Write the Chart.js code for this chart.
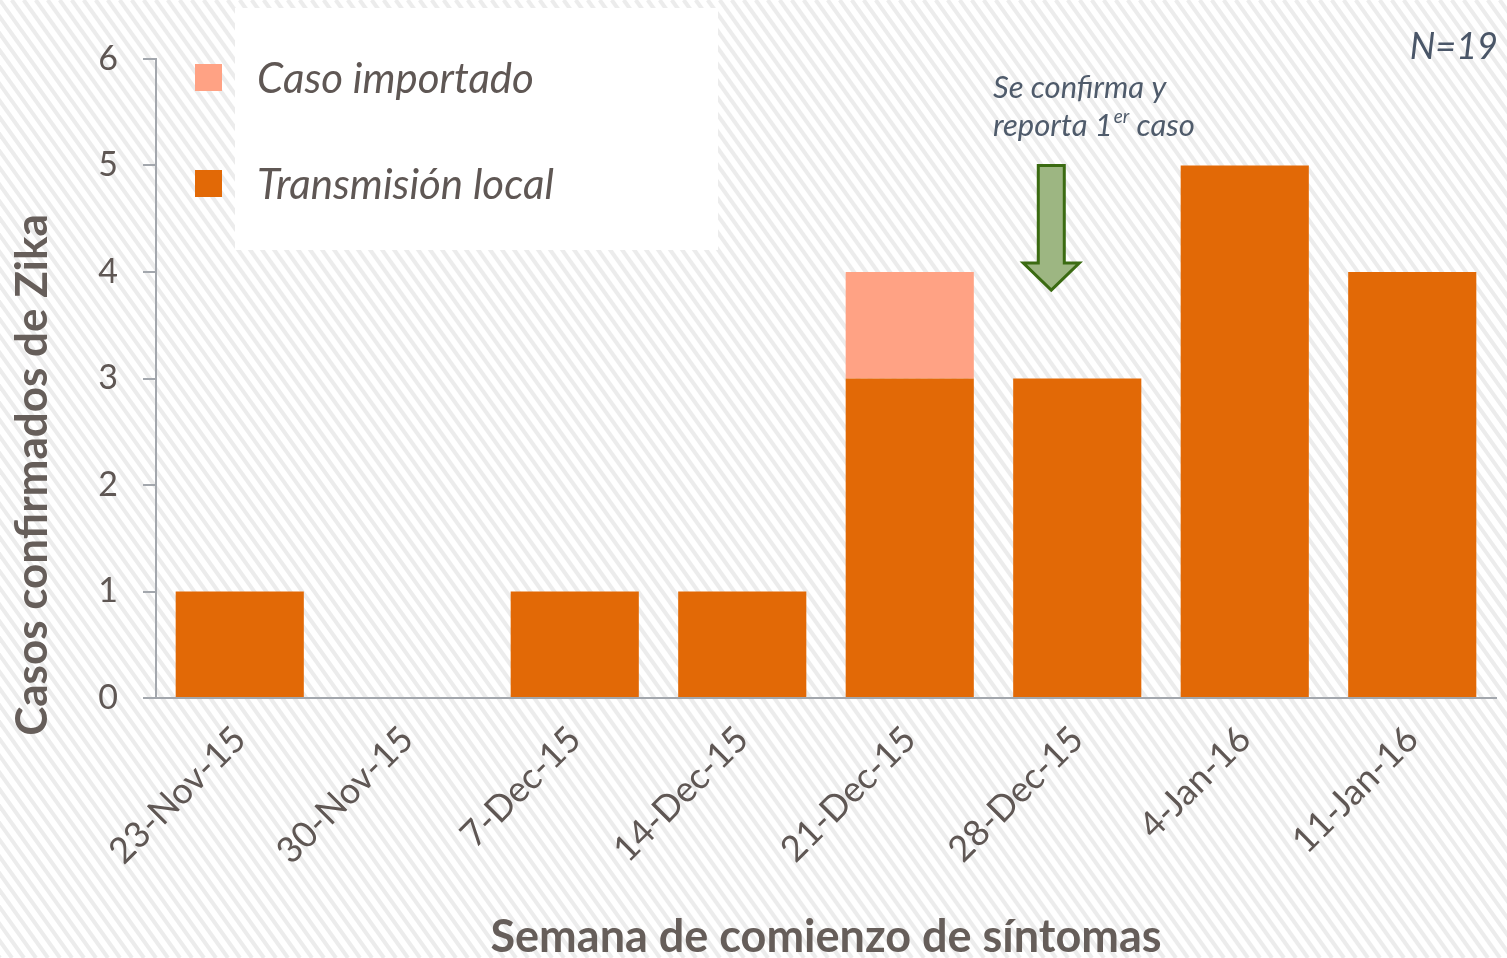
<!DOCTYPE html>
<html>
<head>
<meta charset="utf-8">
<script src="https://cdn.jsdelivr.net/npm/chart.js@4.4.1/dist/chart.umd.min.js"></script>
<style>
  html, body { margin: 0; padding: 0; background: #fff; }
  #wrap { width: 1507px; height: 958px; position: relative; }
</style>
</head>
<body>
<div id="wrap"><canvas id="zika"></canvas></div>
<script>
// weeks of symptom onset
const weeks = ['23-Nov-15', '30-Nov-15', '7-Dec-15', '14-Dec-15', '21-Dec-15', '28-Dec-15', '4-Jan-16', '11-Jan-16'];
const localCases = [1, 0, 1, 1, 3, 3, 5, 4];
const importedCases = [0, 0, 0, 0, 1, 0, 0, 0];
const yTicks = [0, 1, 2, 3, 4, 5, 6];

const FONT = 'Lato, "Open Sans", sans-serif';
const textGray = '#5f5754';
const axisGray = '#a3a7ad';

// hatched slide background + custom legend, notes and arrow
const decor = {
    id: 'decor',
    beforeDraw(chart) {
        const ctx = chart.ctx;
        const w = chart.width, h = chart.height;
        ctx.save();
        ctx.fillStyle = '#ffffff';
        ctx.fillRect(0, 0, w, h);
        ctx.strokeStyle = '#ececec';
        ctx.lineWidth = 4;
        const slope = 1.4;
        for (let x0 = -h / slope; x0 < w; x0 += 12) {
            ctx.beginPath();
            ctx.moveTo(x0, 0);
            ctx.lineTo(x0 + h / slope, h);
            ctx.stroke();
        }
        ctx.restore();
    },
    afterDraw(chart) {
        const ctx = chart.ctx;
        const xs = chart.scales.x, ys = chart.scales.y;
        ctx.save();

        // legend box
        ctx.fillStyle = '#ffffff';
        ctx.fillRect(235, 8, 483, 242);
        const items = [chart.data.datasets[1], chart.data.datasets[0]];
        items.forEach((ds, i) => {
            const cy = 77 + i * 106;
            ctx.fillStyle = ds.backgroundColor;
            ctx.fillRect(195, cy - 13, 27, 27);
            ctx.fillStyle = textGray;
            ctx.font = 'italic 42px ' + FONT;
            ctx.textBaseline = 'middle';
            ctx.textAlign = 'left';
            ctx.fillText(ds.label, 257, cy + 2);
        });

        // y axis title
        ctx.save();
        ctx.translate(33, 475);
        ctx.rotate(-Math.PI / 2);
        ctx.font = 'bold 44px ' + FONT;
        ctx.fillStyle = '#665e5a';
        ctx.textAlign = 'center';
        ctx.textBaseline = 'middle';
        ctx.fillText('Casos confirmados de Zika', 0, 0);
        ctx.restore();

        // N=19
        ctx.font = 'italic 36px ' + FONT;
        ctx.fillStyle = '#4a5668';
        ctx.textAlign = 'right';
        ctx.textBaseline = 'middle';
        const total = localCases.concat(importedCases).reduce((a, b) => a + b, 0);
        ctx.fillText('N=' + total, 1498, 47);

        // annotation
        ctx.font = 'italic 31px ' + FONT;
        ctx.fillStyle = '#4f5b6b';
        ctx.textAlign = 'left';
        ctx.fillText('Se confirma y', 993, 88);
        let tx = 993;
        ctx.fillText('reporta 1', tx, 126);
        tx += ctx.measureText('reporta 1').width;
        ctx.font = 'italic 19px ' + FONT;
        ctx.fillText('er', tx + 1, 117);
        tx += ctx.measureText('er').width + 1;
        ctx.font = 'italic 31px ' + FONT;
        ctx.fillText(' caso', tx, 126);

        // arrow pointing at the 28-Dec week
        const bw = xs.getPixelForValue(1) - xs.getPixelForValue(0);
        const ax = xs.getPixelForValue(5) - 0.155 * bw;
        const top = ys.getPixelForValue(5);
        const tip = ys.getPixelForValue(3.83);
        const headY = tip - 27;
        ctx.beginPath();
        ctx.moveTo(ax - 13, top);
        ctx.lineTo(ax + 13, top);
        ctx.lineTo(ax + 13, headY);
        ctx.lineTo(ax + 28, headY);
        ctx.lineTo(ax, tip);
        ctx.lineTo(ax - 28, headY);
        ctx.lineTo(ax - 13, headY);
        ctx.closePath();
        ctx.fillStyle = '#9db682';
        ctx.fill();
        ctx.strokeStyle = '#3b6b12';
        ctx.lineWidth = 3;
        ctx.lineJoin = 'miter';
        ctx.stroke();

        ctx.restore();
    }
};

new Chart(document.getElementById('zika'), {
    type: 'bar',
    data: {
        labels: weeks,
        datasets: [
            {
                label: 'Transmisión local',
                data: localCases,
                backgroundColor: '#e26906',
                borderWidth: 0
            },
            {
                label: 'Caso importado',
                data: importedCases,
                backgroundColor: '#ffa284',
                borderWidth: 0
            }
        ]
    },
    options: {
        responsive: true,
        maintainAspectRatio: false,
        animation: false,
        datasets: {
            bar: { categoryPercentage: 1, barPercentage: 0.765 }
        },
        layout: { padding: { left: 0, top: 59, right: 11, bottom: 0 } },
        plugins: {
            legend: { display: false },
            tooltip: { enabled: false }
        },
        scales: {
            x: {
                stacked: true,
                grid: { display: false },
                border: { display: true, color: axisGray, width: 2 },
                ticks: {
                    color: textGray,
                    font: { family: FONT, size: 36 },
                    minRotation: 45,
                    maxRotation: 45,
                    padding: 12
                },
                title: {
                    display: true,
                    text: 'Semana de comienzo de síntomas',
                    color: '#665e5a',
                    font: { family: FONT, size: 45, weight: 'bold', lineHeight: 0.9 },
                    padding: { top: 0, bottom: 0 }
                },
                afterFit(scale) { scale.height = 260; }
            },
            y: {
                stacked: true,
                min: 0,
                max: 6,
                grid: {
                    drawOnChartArea: false,
                    drawTicks: true,
                    tickLength: 13,
                    color: axisGray,
                    lineWidth: 2
                },
                border: { display: true, color: axisGray, width: 2 },
                afterBuildTicks(scale) { scale.ticks = yTicks.map(v => ({ value: v })); },
                ticks: {
                    color: textGray,
                    font: { family: FONT, size: 34 },
                    padding: 25
                },
                afterFit(scale) { scale.width = 156; }
            }
        }
    },
    plugins: [decor]
});
</script>
</body>
</html>
